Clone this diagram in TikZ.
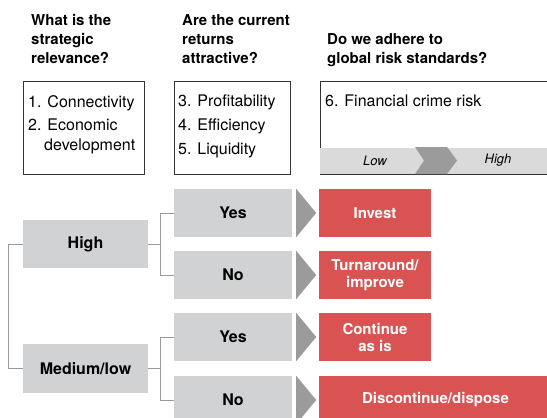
\documentclass[tikz,border=0pt]{standalone}
\usepackage{fontspec}
\setmainfont{TeX Gyre Heros}
\usetikzlibrary{positioning}
\definecolor{boxgray}{HTML}{D1D2D4}
\definecolor{bandgray}{HTML}{DADADA}
\definecolor{chevgray}{HTML}{9B9B9B}
\definecolor{actred}{HTML}{DA5353}
\definecolor{wiregray}{HTML}{9A9A9A}
\tikzset{
  headtext/.style={anchor=north west, inner sep=0, align=left, font=\fontsize{15}{19}\selectfont\bfseries},
  itemtext/.style={inner sep=0, align=left, font=\fontsize{16}{20}\selectfont},
  listbox/.style={draw=black!80, line width=0.8pt, anchor=north west, inner sep=0},
  choicebox/.style={fill=boxgray, minimum width=118pt, minimum height=48pt, inner sep=0, font=\fontsize{16}{18}\selectfont\bfseries},
  resultbox/.style={fill=actred, text=white, minimum width=112pt, minimum height=48pt, inner sep=0, align=center, font=\fontsize{15}{17}\selectfont\bfseries},
  scaletext/.style={font=\fontsize{13}{15}\selectfont\itshape},
  wire/.style={draw=wiregray, line width=0.8pt},
}

\begin{document}
\begin{tikzpicture}[x=1pt, y=-1pt]
  \useasboundingbox (0,0) rectangle (547,418);
  \clip (0,0) rectangle (547,418);

  % questions
  \node[headtext] (q1) at (31,14.5) {What is the\\strategic\\relevance?};
  \node[headtext] (q2) at (182,14.5) {Are the current\\returns\\attractive?};
  \node[headtext] (q3) at (327,33.5) {Do we adhere to\\global risk standards?};

  % criteria boxes
  \node[listbox, minimum width=121pt, minimum height=93pt] (rel) at (23,81) {};
  \node[listbox, minimum width=116pt, minimum height=93pt] (ret) at (174,81) {};
  \node[listbox, minimum width=240pt, minimum height=93pt] (risk) at (320,81) {};
  \node[itemtext, below right=14pt and 5pt of rel.north west]
    {1. Connectivity\\[3.5pt]2. Economic\\\hspace*{16pt}development};
  \node[itemtext, below right=14pt and 4pt of ret.north west]
    {3. Profitability\\[3.5pt]4. Efficiency\\[4.5pt]5. Liquidity};
  \node[itemtext, below right=14pt and 5pt of risk.north west]
    {6. Financial crime risk};

  % low / high scale
  \fill[bandgray] ([xshift=0.4pt,yshift=0.4pt]risk.south west) rectangle ([xshift=-0.4pt,yshift=27pt]risk.south east);
  \fill[chevgray] (415,147) -- (447,147) -- (457,160.5) -- (447,174) -- (415,174) -- (424,160.5) -- cycle;
  \node[scaletext] (low) at (375,160.5) {Low};
  \node[scaletext] (hi) at (498,160.5) {High};

  % decision tree
  \node[choicebox, minimum width=125pt] (high) at (85.5,244) {High};
  \node[choicebox, minimum width=125pt, minimum height=49pt] (medlow) at (85.5,368.5) {Medium/low};
  \node[choicebox] (yes1) at (233,213) {Yes};
  \node[choicebox] (no1) at (233,275) {No};
  \node[choicebox] (yes2) at (233,337) {Yes};
  \node[choicebox] (no2) at (233,400) {No};

  \node[resultbox] (invest) at (375,213) {Invest};
  \node[resultbox] (turn) at (375,275) {Turnaround/\\improve};
  \node[resultbox] (cont) at (375,337) {Continue\\as is};
  \node[resultbox, minimum width=233pt] (disc) at (435.5,400) {Discontinue/dispose};

  \foreach \c in {yes1,no1,yes2,no2}
    \fill[chevgray] ([xshift=4pt]\c.north east) -- ([xshift=24pt]\c.east) -- ([xshift=4pt]\c.south east) -- cycle;

  \draw[wire] (high.west) -- ++(-14,0) |- (medlow.west);
  \draw[wire] (high.east) -- ++(12,0) |- (yes1.west);
  \draw[wire] (high.east) -- ++(12,0) |- (no1.west);
  \draw[wire] (medlow.east) -- ++(12,0) |- (yes2.west);
  \draw[wire] (medlow.east) -- ++(12,0) |- (no2.west);
\end{tikzpicture}
\end{document}
